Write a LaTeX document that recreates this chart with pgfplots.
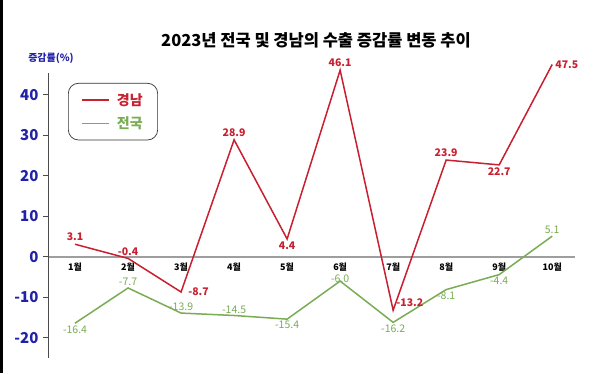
\documentclass[border=0pt]{standalone}
\usepackage{pgfplots}
\pgfplotsset{compat=1.18}
\usepackage{fontspec}
\setmainfont{Noto Sans CJK KR}
\definecolor{kred}{RGB}{200,32,48}
\definecolor{kgreen}{RGB}{122,172,84}
\definecolor{kblue}{RGB}{34,34,168}
\pgfplotsset{
  rlab/.style={draw=none, mark=none, forget plot, nodes near coords, point meta=explicit symbolic,
    nodes near coords style={font=\bfseries\fontsize{10.5}{12}\selectfont, text=kred, inner sep=3pt, anchor=#1}},
  glab/.style={draw=none, mark=none, forget plot, nodes near coords, point meta=explicit symbolic,
    nodes near coords style={font=\fontsize{10.5}{12}\selectfont, text=kgreen, inner sep=2pt, anchor=#1}},
}
\begin{document}
\begin{tikzpicture}
\path[use as bounding box, fill=white] (0,0) rectangle (600pt,373pt);
\fill[black] (0,0) rectangle (3pt,373pt);
\node[font=\bfseries\fontsize{16.5}{18}\selectfont] at (316pt,333pt) {2023년 전국 및 경남의 수출 증감률 변동 추이};
\node[font=\bfseries\fontsize{10}{12}\selectfont, text=kblue] at (51pt,315pt) {증감률(\%)};
\begin{axis}[
  at={(48pt,15pt)}, anchor=south west,
  scale only axis, width=527pt, height=285pt,
  xmin=0.49, xmax=10.43, ymin=-25, ymax=45.4,
  axis x line=middle, axis y line=left,
  x axis line style={-, draw=black!38, line width=2.2pt},
  y axis line style={-, draw=black!70, line width=1pt},
  xtick={1,...,10},
  xticklabels={1월,2월,3월,4월,5월,6월,7월,8월,9월,10월},
  x tick label style={font=\bfseries\fontsize{9}{11}\selectfont, yshift=2pt},
  xtick style={draw=none},
  ytick={-20,-10,0,10,20,30,40},
  yticklabels={-20,-10,0,10,20,30,40},
  y tick label style={font=\bfseries\fontsize{15}{17}\selectfont, text=kblue, xshift=-1pt},
  ytick style={draw=black!70, line width=1pt},
  tick align=outside, major tick length=5pt,
  clip=false,
  legend style={at={(0.038,0.965)}, anchor=north west, draw=black!80, line width=0.7pt,
    rounded corners=10pt, inner xsep=13pt, inner ysep=8pt, row sep=6pt,
    font=\bfseries\fontsize{14}{16}\selectfont},
  legend cell align=left,
  legend image code/.code={\draw[#1] (0pt,0pt) -- (27pt,0pt);},
]
% lines
\addplot[kred, line width=1.5pt, mark=none] coordinates {
  (1,3.1) (2,-0.4) (3,-8.7) (4,28.9) (5,4.4) (6,46.1) (7,-13.2) (8,23.9) (9,22.7) (10,47.5)};
\addlegendentry{\hspace{5pt}\textcolor{kred}{경남}}
\addplot[kgreen, line width=1.5pt, mark=none] coordinates {
  (1,-16.4) (2,-7.7) (3,-13.9) (4,-14.5) (5,-15.4) (6,-6.0) (7,-16.2) (8,-8.1) (9,-4.4) (10,5.1)};
\addlegendentry{\hspace{5pt}\textcolor{kgreen}{전국}}
% red labels
\addplot[rlab=south] coordinates {(1,3.1) [3.1] (2,-0.4) [-0.4] (4,28.9) [28.9] (6,46.1) [46.1] (8,23.9) [23.9]};
\addplot[rlab=north] coordinates {(5,4.4) [4.4] (9,22.7) [22.7]};
\addplot[rlab=west, nodes near coords style={xshift=4pt}] coordinates {(3,-8.7) [-8.7]};
\addplot[rlab=west] coordinates {(10,47.5) [47.5]};
\addplot[rlab=south west] coordinates {(7,-13.2) [-13.2]};
% green labels
\addplot[glab=south] coordinates {(2,-7.7) [-7.7] (3,-13.9) [-13.9] (4,-14.5) [-14.5] (10,5.1) [5.1]};
\addplot[glab=south, nodes near coords style={inner sep=0pt, yshift=-2pt}] coordinates {(6,-6.0) [-6.0]};
\addplot[glab=north] coordinates {(1,-16.4) [-16.4] (5,-15.4) [-15.4] (7,-16.2) [-16.2] (8,-8.1) [-8.1] (9,-4.4) [-4.4]};
\end{axis}
\end{tikzpicture}
\end{document}
